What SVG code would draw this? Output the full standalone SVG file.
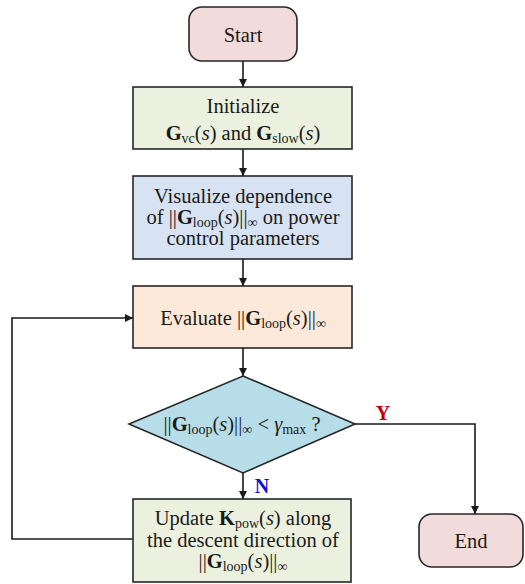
<svg xmlns="http://www.w3.org/2000/svg" width="525" height="584" viewBox="0 0 525 584">
<style>
text{font-family:'Liberation Serif','Times New Roman','DejaVu Serif',serif}
.box{stroke:#262626;stroke-width:1.6}
.t{font-size:20.5px;fill:#1a1a1a;text-anchor:middle}
.b{font-weight:bold}
.i{font-style:italic}
.sub{font-size:14px}
.con{fill:none;stroke:#1a1a1a;stroke-width:1.6}
.lbl{font-size:20px;font-weight:bold}
</style>
<defs>
<marker id="arr" viewBox="0 0 10 10" refX="10" refY="5" markerWidth="8" markerHeight="8" markerUnits="userSpaceOnUse" orient="auto">
<path d="M0,0 L10,5 L0,10 z" fill="#1a1a1a"/>
</marker>
</defs>
<rect width="525" height="584" fill="#ffffff"/>
<g id="connectors">
<line class="con" x1="243" y1="61" x2="243" y2="87" marker-end="url(#arr)"/>
<line class="con" x1="243" y1="149" x2="243" y2="176" marker-end="url(#arr)"/>
<line class="con" x1="243" y1="259" x2="243" y2="286" marker-end="url(#arr)"/>
<line class="con" x1="243" y1="348" x2="243" y2="376" marker-end="url(#arr)"/>
<line class="con" x1="243" y1="473" x2="243" y2="499" marker-end="url(#arr)"/>
<polyline class="con" points="133,539 12,539 12,318 133,318" marker-end="url(#arr)"/>
<polyline class="con" points="355,424 475,424 475,514" marker-end="url(#arr)"/>
<text class="lbl" x="383" y="420" fill="#C00000" text-anchor="middle" font-family="Liberation Serif, serif">Y</text>
<text class="lbl" x="262" y="493" fill="#1010CC" text-anchor="middle" font-family="Liberation Serif, serif">N</text>
</g>
<g id="start">
<rect class="box" x="189" y="7" width="108" height="54" rx="13" fill="#F2DCDB"/>
<text class="t" x="243" y="42" font-family="Liberation Serif, serif">Start</text>
</g>
<g id="initialize">
<rect class="box" x="133" y="87" width="219" height="62" fill="#EBF1DE"/>
<text class="t" x="243" y="113" font-family="Liberation Serif, serif">Initialize</text>
<text class="t" x="243" y="140" font-family="Liberation Serif, serif"><tspan class="b">G</tspan><tspan class="sub" dy="3">vc</tspan><tspan dy="-3">(</tspan><tspan class="i">s</tspan>) and <tspan class="b">G</tspan><tspan class="sub" dy="3">slow</tspan><tspan dy="-3">(</tspan><tspan class="i">s</tspan>)</text>
</g>
<g id="visualize">
<rect class="box" x="133" y="176" width="219" height="83" fill="#D7E3F2"/>
<text class="t" x="243" y="203" font-family="Liberation Serif, serif">Visualize dependence</text>
<text class="t" x="243" y="224" font-family="Liberation Serif, serif">of ||<tspan class="b">G</tspan><tspan class="sub" dy="3">loop</tspan><tspan dy="-3">(</tspan><tspan class="i">s</tspan>)||<tspan class="sub" dy="3">∞</tspan><tspan dy="-3"> on power</tspan></text>
<text class="t" x="243" y="245" font-family="Liberation Serif, serif">control parameters</text>
</g>
<g id="evaluate">
<rect class="box" x="133" y="286" width="219" height="62" fill="#FDE9D9"/>
<text class="t" x="243" y="325" font-family="Liberation Serif, serif">Evaluate ||<tspan class="b">G</tspan><tspan class="sub" dy="3">loop</tspan><tspan dy="-3">(</tspan><tspan class="i">s</tspan>)||<tspan class="sub" dy="3">∞</tspan></text>
</g>
<g id="decision">
<polygon class="box" points="243,376 355,424 243,473 129,424" fill="#B7DDE8"/>
<text class="t" x="242" y="431" font-family="Liberation Serif, serif">||<tspan class="b">G</tspan><tspan class="sub" dy="3">loop</tspan><tspan dy="-3">(</tspan><tspan class="i">s</tspan>)||<tspan class="sub" dy="3">∞</tspan><tspan dy="-3"> &lt; </tspan><tspan class="i">γ</tspan><tspan class="sub" dy="3">max</tspan><tspan dy="-3"> ?</tspan></text>
</g>
<g id="update">
<rect class="box" x="133" y="499" width="218" height="83" fill="#EBF1DE"/>
<text class="t" x="243" y="525" font-family="Liberation Serif, serif">Update <tspan class="b">K</tspan><tspan class="sub" dy="3">pow</tspan><tspan dy="-3">(</tspan><tspan class="i">s</tspan>) along</text>
<text class="t" x="243" y="547" font-family="Liberation Serif, serif">the descent direction of</text>
<text class="t" x="243" y="568" font-family="Liberation Serif, serif">||<tspan class="b">G</tspan><tspan class="sub" dy="3">loop</tspan><tspan dy="-3">(</tspan><tspan class="i">s</tspan>)||<tspan class="sub" dy="3">∞</tspan></text>
</g>
<g id="end">
<rect class="box" x="419" y="514" width="104" height="53" rx="13" fill="#F2DCDB"/>
<text class="t" x="471" y="548" font-family="Liberation Serif, serif">End</text>
</g>
</svg>
